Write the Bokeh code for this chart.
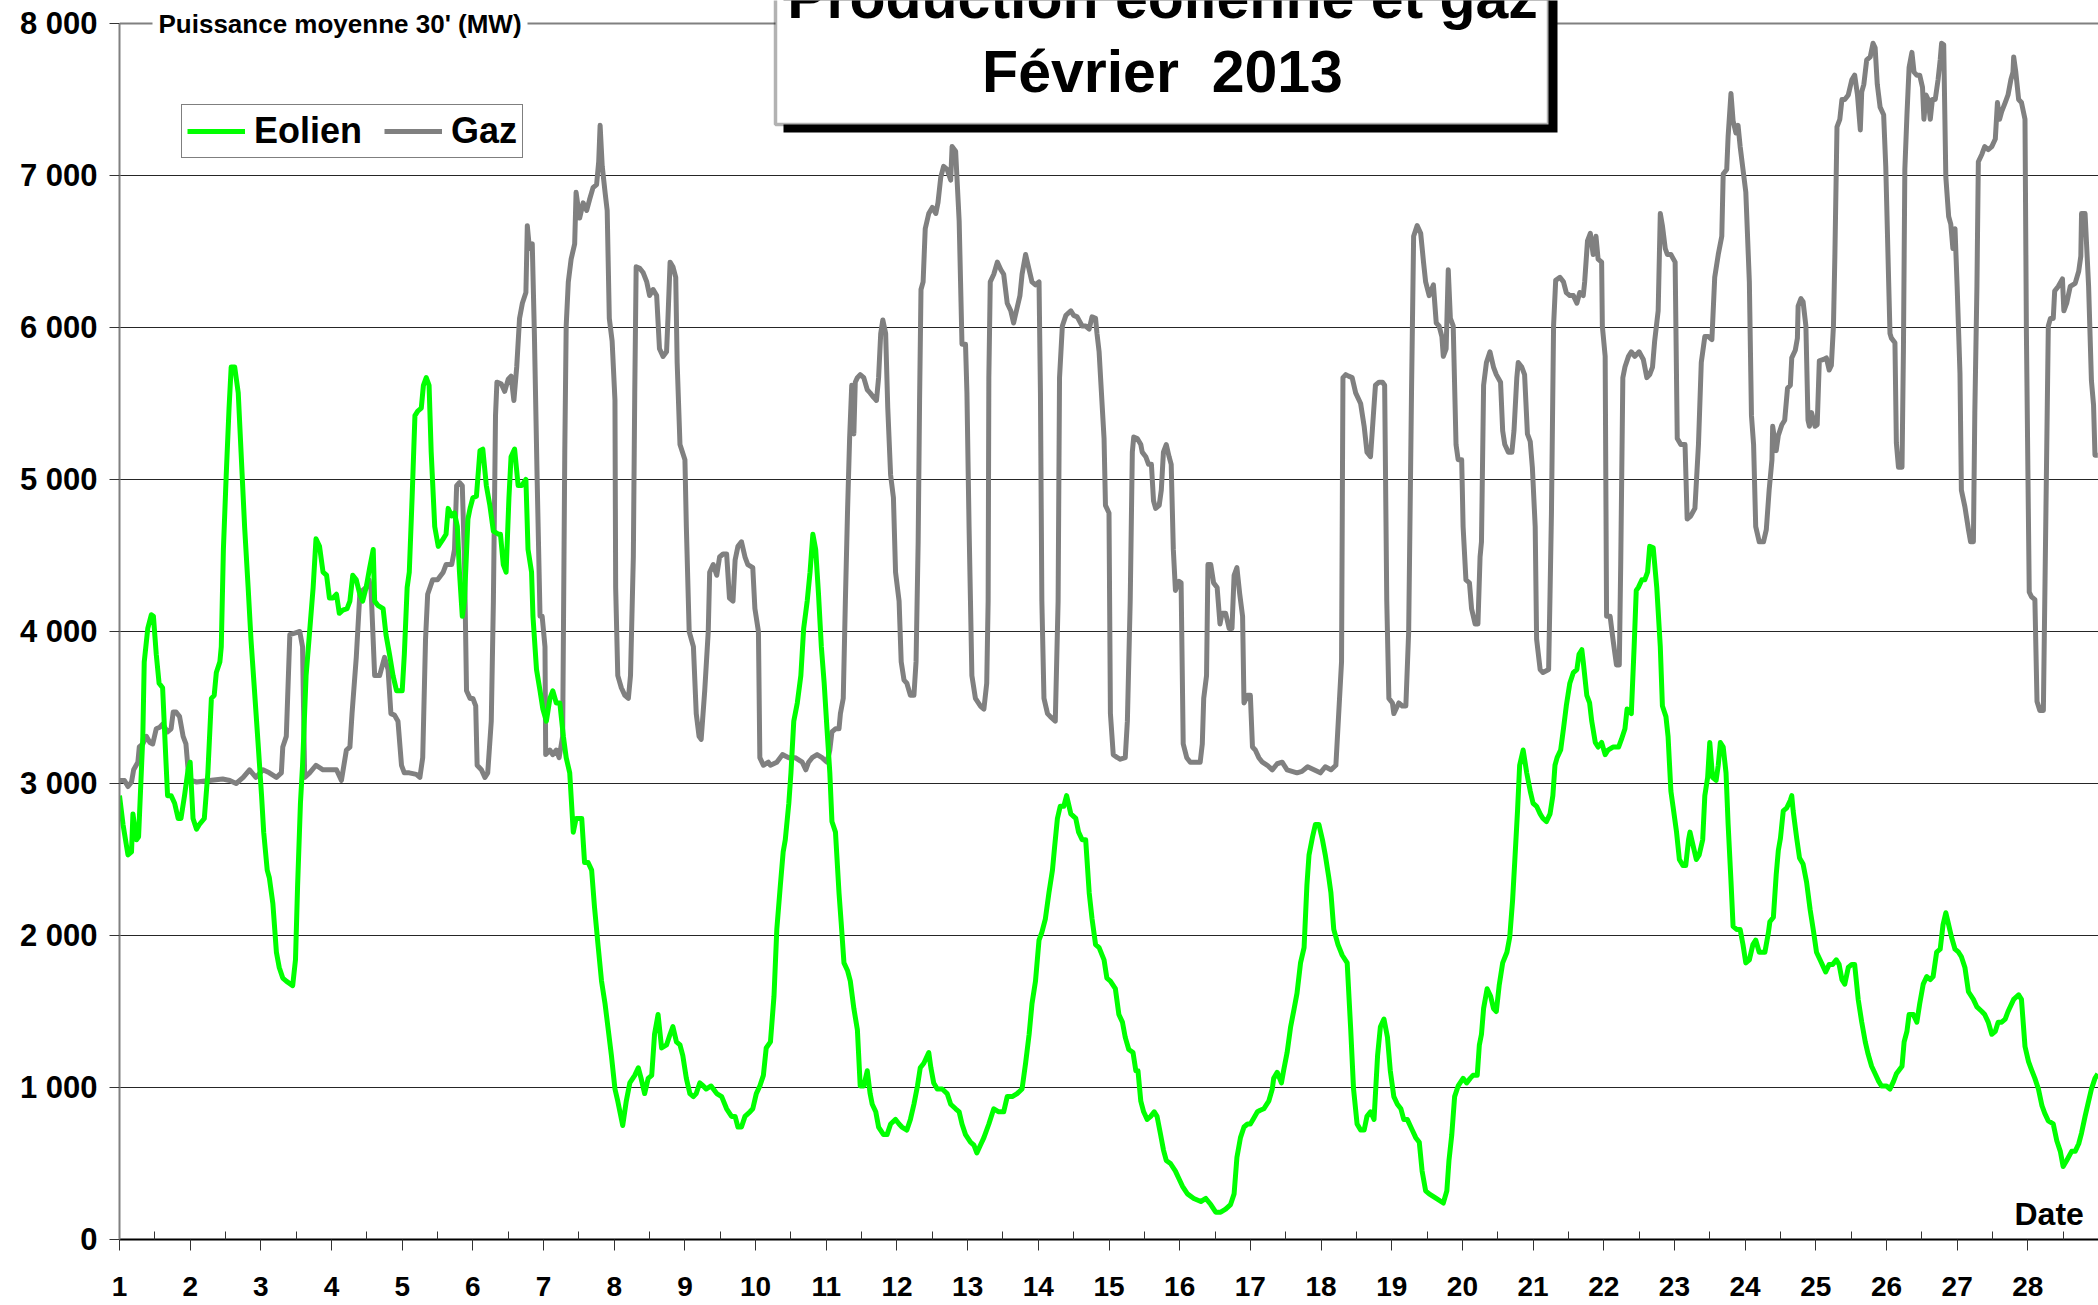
from bokeh.plotting import figure
from bokeh.models import Range1d, FixedTicker, Span, Label, BoxAnnotation, Legend, LegendItem
from bokeh.embed import file_html
from bokeh.resources import INLINE

# ---------------- data ----------------
# day of February 2013 (1.0 = 1 Feb 00:00), production in MW
eolien_day = [
    1.00, 1.05, 1.12, 1.17, 1.19, 1.24, 1.27, 1.33, 1.35, 1.40, 1.45, 1.48, 1.52, 1.56, 1.61, 1.65, 1.68, 1.73, 1.78, 1.83,
    1.87, 1.92, 1.97, 2.00, 2.04, 2.09, 2.13, 2.20, 2.25, 2.27, 2.30, 2.34, 2.37, 2.42, 2.44, 2.47, 2.51, 2.55, 2.58, 2.63,
    2.68, 2.72, 2.77, 2.82, 2.86, 2.91, 2.96, 3.01, 3.04, 3.09, 3.12, 3.17, 3.22, 3.26, 3.31, 3.36, 3.45, 3.49, 3.52, 3.56,
    3.59, 3.64, 3.69, 3.74, 3.78, 3.83, 3.88, 3.93, 3.97, 4.02, 4.07, 4.11, 4.16, 4.22, 4.26, 4.30, 4.35, 4.40, 4.44, 4.49,
    4.54, 4.59, 4.61, 4.66, 4.73, 4.77, 4.82, 4.87, 4.92, 5.00, 5.03, 5.07, 5.10, 5.14, 5.18, 5.22, 5.27, 5.30, 5.34, 5.38,
    5.41, 5.46, 5.51,
    5.58, 5.62, 5.65, 5.70, 5.74, 5.78, 5.81, 5.85, 5.88, 5.93, 5.96, 6.00, 6.05, 6.10, 6.14, 6.19, 6.24, 6.29, 6.36, 6.39,
    6.43, 6.47, 6.51, 6.54, 6.59, 6.64, 6.69, 6.75, 6.78, 6.83, 6.85, 6.90, 6.95, 6.99, 7.04, 7.09, 7.13, 7.18, 7.23, 7.28,
    7.32, 7.37, 7.42, 7.46, 7.54, 7.58, 7.63, 7.68, 7.72, 7.77, 7.82, 7.87, 7.91, 7.96, 8.01, 8.05, 8.12, 8.17, 8.22, 8.29,
    8.34, 8.38, 8.43, 8.48, 8.53, 8.57, 8.62, 8.67, 8.74, 8.79, 8.83, 8.88, 8.93, 8.97, 9.02, 9.07, 9.12, 9.16, 9.21, 9.26,
    9.30, 9.37, 9.45, 9.52, 9.59, 9.66, 9.71, 9.75, 9.80, 9.85, 9.92, 9.96, 10.01, 10.06, 10.11, 10.15,
    10.21, 10.26, 10.30, 10.35, 10.39, 10.42, 10.47, 10.50, 10.54, 10.59, 10.64, 10.68, 10.73, 10.77, 10.81, 10.85, 10.89,
    10.93, 10.97, 11.01, 11.05, 11.08, 11.13, 11.18, 11.21, 11.25, 11.30, 11.34, 11.39, 11.44, 11.48, 11.53, 11.58, 11.62,
    11.65, 11.70, 11.74, 11.81, 11.86, 11.91, 11.98, 12.03, 12.07, 12.14, 12.19, 12.24, 12.29, 12.33, 12.38, 12.45, 12.48,
    12.52, 12.57, 12.64, 12.71, 12.76, 12.83, 12.88, 12.92, 12.97, 13.04, 13.09, 13.13, 13.18, 13.23, 13.30, 13.37, 13.44,
    13.51, 13.56, 13.63, 13.70, 13.77, 13.82, 13.87, 13.91, 13.96, 14.01, 14.05, 14.10, 14.15, 14.20, 14.23, 14.27, 14.31,
    14.36, 14.40, 14.46, 14.53, 14.57, 14.62, 14.67, 14.72, 14.76, 14.81, 14.86,
    14.93, 14.97, 15.02, 15.09, 15.14, 15.19, 15.23, 15.28, 15.34, 15.38, 15.41, 15.45, 15.49, 15.54, 15.59, 15.64, 15.68,
    15.73, 15.77, 15.81, 15.87, 15.94, 15.99, 16.04, 16.11, 16.20, 16.30, 16.37, 16.44, 16.51, 16.58, 16.65, 16.72, 16.77,
    16.81, 16.86, 16.91, 16.96, 17.00, 17.05, 17.10, 17.14, 17.19, 17.26, 17.31, 17.33, 17.38, 17.44, 17.47, 17.52, 17.57,
    17.62, 17.66, 17.71, 17.76, 17.80, 17.83, 17.88, 17.92, 17.97, 18.02, 18.06, 18.11, 18.14, 18.18, 18.24, 18.30, 18.37,
    18.42, 18.46, 18.51, 18.56, 18.61, 18.65, 18.70, 18.75, 18.80, 18.84, 18.89, 18.94, 18.98, 19.03, 19.08, 19.13, 19.17,
    19.22, 19.29, 19.34, 19.39, 19.43, 19.48, 19.53,
    19.63, 19.73, 19.78, 19.81, 19.85, 19.89, 19.94, 20.01, 20.06, 20.11, 20.15, 20.21, 20.24, 20.27, 20.30, 20.35, 20.40,
    20.44, 20.48, 20.52, 20.57, 20.63, 20.67, 20.71, 20.74, 20.78, 20.81, 20.86, 20.91, 20.96, 21.00, 21.05, 21.10, 21.14,
    21.19, 21.24, 21.28, 21.31, 21.34, 21.39, 21.43, 21.47, 21.52, 21.57, 21.62, 21.65, 21.69, 21.71, 21.76, 21.80, 21.83,
    21.88, 21.92, 21.97, 22.02, 22.06, 22.13, 22.21, 22.25, 22.30, 22.33, 22.39, 22.43, 22.46, 22.49, 22.54, 22.58, 22.62,
    22.65, 22.70, 22.75, 22.80, 22.83, 22.88, 22.91, 22.95, 22.98, 23.03, 23.07, 23.12, 23.16, 23.20, 23.22, 23.27, 23.31,
    23.35, 23.40, 23.43, 23.47, 23.50, 23.54, 23.59, 23.62, 23.65, 23.69, 23.73, 23.76, 23.80, 23.83, 23.88, 23.93, 23.97,
    24.01, 24.06, 24.11, 24.15, 24.20,
    24.28, 24.33, 24.35, 24.40, 24.44, 24.47, 24.50, 24.54, 24.59, 24.64, 24.66, 24.68, 24.73, 24.77, 24.82, 24.87, 24.92,
    24.97, 25.01, 25.06, 25.11, 25.14, 25.19, 25.24, 25.29, 25.33, 25.37, 25.41, 25.46, 25.51, 25.55, 25.60, 25.65, 25.70,
    25.74, 25.79, 25.84, 25.89, 25.93, 26.00, 26.05, 26.10, 26.14, 26.22, 26.25, 26.29, 26.32, 26.38, 26.43, 26.47, 26.52,
    26.57, 26.62, 26.66, 26.71, 26.76, 26.80, 26.84, 26.88, 26.92, 26.97, 27.02, 27.06, 27.11, 27.16, 27.23, 27.28, 27.35,
    27.39, 27.44, 27.49, 27.54, 27.58, 27.63, 27.68, 27.72, 27.80, 27.87, 27.91, 27.96, 28.01, 28.05, 28.10, 28.15, 28.20,
    28.24, 28.29, 28.36, 28.41, 28.46, 28.50, 28.55, 28.62, 28.67, 28.72, 28.76, 28.81, 28.86, 28.90, 28.95, 28.99,
]
eolien_mw = [
    2920, 2730, 2530, 2550, 2800, 2630, 2650, 3310, 3800, 4020, 4110, 4100, 3850, 3660, 3630, 3220, 2920, 2920, 2870, 2770,
    2770, 2920, 3090, 3140, 2770, 2700, 2730, 2770, 3070, 3265, 3560, 3580, 3730, 3800, 3900, 4540, 5030, 5470, 5740, 5740,
    5570, 5180, 4690, 4290, 3950, 3610, 3270, 2920, 2680, 2430, 2380, 2210, 1890, 1790, 1720, 1700, 1670, 1840, 2330, 2870,
    3120, 3710, 4000, 4290, 4610, 4560, 4390, 4370, 4220, 4220, 4245, 4120, 4140, 4150, 4200, 4370, 4340, 4245, 4200, 4290,
    4420, 4540, 4200, 4170, 4150, 3980, 3850, 3710, 3610, 3610, 3850, 4290, 4390, 4880, 5420, 5450, 5470, 5620, 5670, 5620,
    5180, 4690, 4560,
    4610, 4640, 4810, 4760, 4780, 4690, 4390, 4100, 4200, 4740, 4810, 4880, 4890, 5190, 5200, 4960, 4830, 4660, 4640, 4640,
    4440, 4390, 4880, 5150, 5200, 4960, 4960, 5000, 4540, 4390, 4100, 3750, 3610, 3490, 3410, 3560, 3610, 3530, 3530, 3310,
    3170, 3070, 2680, 2770, 2770, 2480, 2480, 2430, 2190, 1940, 1700, 1550, 1400, 1210, 990, 910, 750, 910, 1030, 1080,
    1130, 1060, 960, 1060, 1080, 1350, 1480, 1260, 1280, 1350, 1400, 1300, 1280, 1210, 1060, 960, 940, 960, 1030, 1010,
    990, 1010, 960, 940, 860, 810, 810, 740, 740, 810, 840, 860, 960, 1010, 1080, 1260,
    1300, 1600, 2040, 2330, 2550, 2630, 2870, 3070, 3410, 3530, 3710, 4020, 4200, 4390, 4640, 4540, 4245,
    3900, 3660, 3360, 3070, 2750, 2680, 2280, 2090, 1820, 1770, 1700, 1520, 1380, 1010, 1010, 1110, 960,
    890, 840, 740, 690, 690, 760, 790, 760, 740, 720, 790, 890, 1010, 1130, 1160, 1230, 1130,
    1030, 990, 990, 960, 890, 860, 840, 760, 690, 640, 620, 570, 620, 670, 760, 860, 840,
    840, 940, 940, 960, 990, 1160, 1350, 1550, 1700, 1970, 2020, 2110, 2280, 2430, 2580, 2770, 2850,
    2850, 2920, 2800, 2770, 2680, 2630, 2630, 2280, 2110, 1940, 1920,
    1840, 1720, 1700, 1650, 1480, 1430, 1330, 1250, 1230, 1110, 1110, 910, 840, 790, 810, 840, 810,
    690, 590, 520, 500, 450, 400, 350, 300, 270, 250, 270, 230, 180, 180, 200, 230, 300,
    540, 670, 740, 760, 760, 800, 840, 850, 860, 910, 990, 1060, 1100, 1030, 1110, 1230, 1400,
    1520, 1620, 1820, 1920, 2330, 2530, 2650, 2730, 2730, 2630, 2530, 2380, 2280, 2040, 1940, 1870, 1820,
    1380, 990, 760, 720, 720, 810, 840, 790, 1210, 1400, 1450, 1330, 1110, 940, 890, 860, 790,
    790, 720, 670, 640, 450, 320, 300,
    270, 240, 320, 520, 690, 940, 1010, 1060, 1030, 1060, 1080, 1080, 1280, 1350, 1520, 1650, 1600,
    1520, 1500, 1670, 1820, 1890, 1990, 2230, 2480, 2820, 3120, 3220, 3070, 2950, 2870, 2850, 2800, 2770,
    2750, 2800, 2920, 3120, 3170, 3220, 3360, 3510, 3660, 3730, 3750, 3850, 3880, 3800, 3580, 3530, 3410,
    3270, 3240, 3270, 3190, 3220, 3240, 3240, 3290, 3360, 3490, 3460, 3900, 4270, 4290, 4340, 4340, 4390,
    4560, 4550, 4290, 3900, 3510, 3440, 3310, 2950, 2850, 2680, 2500, 2460, 2460, 2630, 2680, 2580, 2500,
    2530, 2630, 2920, 3040, 3270, 3040, 3020, 3120, 3270, 3240, 3070, 2730, 2360, 2060, 2040, 2040, 1940,
    1820, 1840, 1940, 1970, 1890,
    1890, 2020, 2090, 2120, 2400, 2560, 2640, 2820, 2840, 2890, 2920, 2820, 2640, 2510, 2470, 2350, 2170,
    2020, 1890, 1840, 1790, 1760, 1810, 1810, 1840, 1810, 1710, 1680, 1790, 1810, 1810, 1580, 1430, 1300,
    1220, 1140, 1090, 1040, 1010, 1010, 990, 1040, 1090, 1140, 1300, 1370, 1480, 1480, 1430, 1550, 1680,
    1730, 1710, 1730, 1890, 1910, 2070, 2150, 2070, 1990, 1910, 1890, 1860, 1790, 1630, 1580, 1530, 1500,
    1480, 1430, 1350, 1370, 1430, 1430, 1450, 1500, 1580, 1610, 1580, 1270, 1170, 1120, 1060, 990, 880,
    830, 780, 760, 650, 580, 480, 520, 580, 580, 630, 700, 810, 910, 990, 1060, 1090,
]

gaz_day = [
    1.00, 1.07, 1.12, 1.17, 1.20, 1.26, 1.28, 1.33, 1.38, 1.43, 1.47, 1.52, 1.57, 1.61, 1.68, 1.73, 1.76, 1.80, 1.85, 1.90,
    1.94, 1.98, 2.01, 2.09, 2.27, 2.46, 2.56, 2.65, 2.75, 2.84, 2.93, 3.03, 3.12, 3.22, 3.29, 3.31, 3.36, 3.41, 3.48, 3.55,
    3.59, 3.62, 3.69, 3.78, 3.88, 3.97, 4.07, 4.14, 4.21, 4.26, 4.29, 4.35, 4.40, 4.44, 4.49, 4.53, 4.56, 4.61, 4.68, 4.75,
    4.80, 4.84, 4.89, 4.94, 4.99, 5.03, 5.10, 5.20, 5.25, 5.29, 5.33, 5.36, 5.43, 5.50,
    5.58, 5.62, 5.70, 5.74, 5.77, 5.81, 5.85, 5.88, 5.91, 5.96, 6.00, 6.04, 6.06, 6.12, 6.17, 6.21, 6.26, 6.29, 6.32, 6.34,
    6.40, 6.45, 6.50, 6.54, 6.58, 6.62, 6.66, 6.70, 6.75, 6.77, 6.80, 6.84, 6.87, 6.91, 6.95, 6.98, 7.02, 7.03, 7.09, 7.13,
    7.18, 7.22, 7.27, 7.30, 7.32, 7.35, 7.39, 7.44, 7.46, 7.51, 7.56, 7.61, 7.65, 7.70, 7.75, 7.78, 7.80, 7.83, 7.87, 7.90,
    7.93, 7.97, 8.01, 8.02, 8.05, 8.10, 8.15, 8.20, 8.23, 8.27, 8.29, 8.31, 8.36, 8.41, 8.46, 8.50, 8.55, 8.60, 8.64, 8.69,
    8.74, 8.76, 8.79, 8.83, 8.87, 8.89, 8.93, 9.00, 9.02, 9.06, 9.12, 9.16, 9.20, 9.23, 9.28, 9.33, 9.35, 9.40, 9.45, 9.49,
    9.54, 9.59, 9.63, 9.68, 9.71, 9.75, 9.80, 9.85, 9.89, 9.96, 9.99, 10.04, 10.06, 10.11, 10.18,
    10.21, 10.30, 10.38, 10.47, 10.56, 10.66, 10.71, 10.75, 10.80, 10.87, 10.94, 11.01, 11.05, 11.08, 11.13, 11.18, 11.20,
    11.24, 11.27, 11.30, 11.33, 11.36, 11.39, 11.41, 11.44, 11.48, 11.53, 11.58, 11.62, 11.67, 11.71, 11.74, 11.77, 11.80,
    11.84, 11.87, 11.91, 11.95, 11.98, 12.03, 12.06, 12.10, 12.14, 12.19, 12.24, 12.27, 12.30, 12.32, 12.34, 12.37, 12.40,
    12.45, 12.50, 12.55, 12.58, 12.62, 12.66, 12.71, 12.76, 12.78, 12.83, 12.88, 12.92, 12.97, 12.99, 13.02, 13.04, 13.06,
    13.11, 13.18, 13.23, 13.27, 13.29, 13.30, 13.32, 13.37, 13.42, 13.47, 13.51, 13.56, 13.61, 13.65, 13.70, 13.74, 13.77,
    13.82, 13.87, 13.91, 13.96, 14.01, 14.03, 14.05, 14.08, 14.13, 14.17, 14.24, 14.28, 14.30, 14.34, 14.39, 14.46, 14.50,
    14.55, 14.62, 14.67, 14.72, 14.76, 14.81, 14.83, 14.86,
    14.93, 14.95, 15.00, 15.02, 15.06, 15.12, 15.16, 15.23, 15.26, 15.30, 15.33, 15.35, 15.40, 15.45, 15.47, 15.52, 15.56,
    15.60, 15.63, 15.66, 15.71, 15.74, 15.77, 15.81, 15.85, 15.88, 15.91, 15.94, 15.99, 16.02, 16.05, 16.10, 16.15, 16.22,
    16.29, 16.32, 16.34, 16.38, 16.40, 16.44, 16.48, 16.53, 16.57, 16.60, 16.65, 16.70, 16.74, 16.77, 16.81, 16.85, 16.89,
    16.91, 16.96, 17.00, 17.03, 17.07, 17.12, 17.17, 17.24, 17.31, 17.38, 17.45, 17.52, 17.59, 17.66, 17.73, 17.81, 17.90,
    17.99, 18.06, 18.14, 18.21, 18.25, 18.29, 18.31, 18.35, 18.39, 18.44, 18.49, 18.56, 18.61, 18.65, 18.70, 18.74, 18.77,
    18.82, 18.87, 18.90, 18.93, 18.96, 19.01, 19.03, 19.10, 19.15, 19.20, 19.24, 19.28, 19.31, 19.36, 19.41, 19.45, 19.48,
    19.53,
    19.59, 19.63, 19.67, 19.71, 19.73, 19.77, 19.80, 19.83, 19.87, 19.91, 19.94, 19.99, 20.01, 20.05, 20.10, 20.13, 20.18,
    20.22, 20.25, 20.27, 20.30, 20.34, 20.39, 20.44, 20.48, 20.54, 20.57, 20.60, 20.65, 20.70, 20.73, 20.77, 20.79, 20.84,
    20.88, 20.92, 20.96, 20.99, 21.03, 21.05, 21.10, 21.14, 21.22, 21.24, 21.26, 21.29, 21.32, 21.38, 21.43, 21.47, 21.52,
    21.57, 21.62, 21.66, 21.71, 21.73, 21.77, 21.81, 21.85, 21.89, 21.92, 21.97, 21.98, 22.02, 22.04, 22.09, 22.13, 22.18,
    22.22, 22.24, 22.27, 22.30, 22.35, 22.39, 22.44, 22.50, 22.56, 22.61, 22.65, 22.69, 22.72, 22.77, 22.80, 22.83, 22.87,
    22.90, 22.95, 23.01, 23.04, 23.09, 23.15, 23.18, 23.23, 23.29, 23.34, 23.38, 23.43, 23.48, 23.53, 23.57, 23.62, 23.67,
    23.69, 23.74, 23.76, 23.80, 23.83, 23.87, 23.90, 23.93, 23.97, 24.01, 24.06, 24.09, 24.12, 24.15, 24.20,
    24.26, 24.30, 24.34, 24.38, 24.39, 24.44, 24.47, 24.52, 24.56, 24.60, 24.64, 24.66, 24.71, 24.74, 24.75, 24.79, 24.82,
    24.86, 24.89, 24.91, 24.94, 24.99, 25.02, 25.05, 25.11, 25.15, 25.19, 25.22, 25.25, 25.27, 25.30, 25.34, 25.37, 25.41,
    25.46, 25.51, 25.55, 25.59, 25.63, 25.65, 25.68, 25.72, 25.77, 25.81, 25.84, 25.87, 25.91, 25.96, 25.99, 26.03, 26.05,
    26.07, 26.12, 26.14, 26.17, 26.22, 26.24, 26.26, 26.29, 26.32, 26.36, 26.39, 26.43, 26.47, 26.51, 26.53, 26.56, 26.59,
    26.62, 26.65, 26.69, 26.73, 26.76, 26.78, 26.81, 26.84, 26.88, 26.91, 26.94, 26.97, 27.00, 27.04, 27.06, 27.11, 27.16,
    27.19, 27.23, 27.25, 27.28, 27.30, 27.35, 27.39, 27.44, 27.49, 27.54, 27.57, 27.60, 27.63, 27.68, 27.72, 27.76, 27.79,
    27.80, 27.83, 27.87, 27.91, 27.96, 27.98, 28.02, 28.05, 28.10, 28.13, 28.17, 28.22, 28.26, 28.29, 28.32, 28.36, 28.38,
    28.43, 28.49, 28.51, 28.55, 28.60, 28.67, 28.72, 28.75, 28.76, 28.81, 28.86, 28.90, 28.93, 28.95, 28.99,
]
gaz_mw = [
    3020, 3020, 2980, 3010, 3090, 3140, 3240, 3260, 3310, 3270, 3260, 3360, 3370, 3390, 3340, 3360, 3470, 3470, 3440, 3310,
    3260, 3040, 3020, 3010, 3020, 3030, 3020, 3000, 3040, 3090, 3040, 3090, 3070, 3040, 3070, 3240, 3310, 3980, 3990, 4000,
    3900, 3040, 3070, 3120, 3090, 3090, 3090, 3020, 3220, 3240, 3460, 3830, 4245, 4270, 4290, 4340, 4270, 3710, 3710, 3830,
    3750, 3460, 3450, 3410, 3120, 3070, 3070, 3060, 3040, 3170, 3950, 4245, 4340, 4340,
    4390, 4440, 4440, 4540, 4960, 4980, 4960, 4490, 3610, 3560, 3560, 3510, 3120, 3090, 3040, 3070, 3410, 4200, 5420, 5640,
    5630, 5580, 5660, 5680, 5520, 5740, 6060, 6160, 6230, 6670, 6520, 6550, 5960, 4980, 4100, 4100, 3900, 3190, 3220, 3190,
    3220, 3170, 3310, 5180, 6010, 6300, 6450, 6550, 6890, 6720, 6820, 6770, 6840, 6920, 6940, 7090, 7330, 7060, 6890, 6770,
    6060, 5910, 5520, 4290, 3710, 3630, 3580, 3560, 3710, 4490, 5570, 6400, 6390, 6360, 6300, 6210, 6250, 6210, 5860, 5810,
    5840, 6060, 6430, 6400, 6330, 5770, 5230, 5130, 4690, 4000, 3900, 3460, 3310, 3290, 3610, 4000, 4390, 4440, 4370, 4490,
    4510, 4510, 4220, 4200, 4470, 4560, 4590, 4490, 4440, 4420, 4150, 4000, 3170, 3120, 3140,
    3120, 3140, 3190, 3170, 3170, 3140, 3090, 3140, 3170, 3190, 3170, 3140, 3220, 3340, 3360, 3360, 3460,
    3560, 4200, 4780, 5270, 5620, 5300, 5640, 5670, 5690, 5670, 5590, 5570, 5540, 5520, 5670, 5960, 6050,
    5960, 5470, 5030, 4880, 4390, 4200, 3800, 3680, 3660, 3580, 3580, 3800, 4590, 5520, 6250, 6300, 6650,
    6750, 6790, 6750, 6820, 6990, 7060, 7040, 6970, 7190, 7160, 6700, 5890, 5890, 5570, 4690, 4200, 3710,
    3560, 3510, 3490, 3660, 4200, 5670, 6300, 6350, 6430, 6380, 6350, 6160, 6110, 6030, 6130, 6210, 6350,
    6480, 6380, 6300, 6280, 6300, 5570, 4200, 3560, 3460, 3440, 3410, 4200, 5670, 6010, 6080, 6110, 6080,
    6070, 6010, 6010, 5990, 6070, 6060, 5960, 5840,
    5270, 4830, 4780, 3460, 3190, 3170, 3160, 3170, 3410, 4200, 5180, 5280, 5270, 5230, 5180, 5150, 5100,
    5100, 4860, 4810, 4830, 4930, 5180, 5230, 5150, 5100, 4540, 4270, 4330, 4320, 3260, 3170, 3140, 3140,
    3140, 3260, 3560, 3710, 4440, 4440, 4320, 4290, 4050, 4120, 4120, 4020, 4020, 4370, 4420, 4245, 4100,
    3530, 3580, 3580, 3240, 3220, 3170, 3140, 3120, 3090, 3130, 3140, 3090, 3080, 3070, 3080, 3110, 3090,
    3070, 3110, 3090, 3120, 3460, 3800, 5670, 5690, 5680, 5670, 5570, 5500, 5350, 5180, 5150, 5420, 5620,
    5640, 5640, 5620, 4200, 3560, 3530, 3460, 3530, 3510, 3510, 4000, 5570, 6600, 6670, 6620, 6430, 6300,
    6210,
    6280, 6030, 6010, 5940, 5810, 5860, 6380, 6060, 6010, 5230, 5130, 5130, 4690, 4340, 4320, 4150, 4050,
    4050, 4490, 4590, 5620, 5770, 5840, 5740, 5690, 5640, 5320, 5230, 5180, 5180, 5320, 5670, 5770, 5740,
    5690, 5300, 5250, 5080, 4690, 3950, 3750, 3730, 3750, 4245, 4780, 6010, 6310, 6330, 6300, 6230, 6210,
    6210, 6160, 6230, 6210, 6300, 6570, 6620, 6480, 6600, 6450, 6430, 6010, 5810, 4100, 4100, 3950, 3780,
    3780, 4440, 5670, 5740, 5810, 5840, 5810, 5840, 5790, 5670, 5690, 5740, 5910, 6110, 6750, 6670, 6520,
    6480, 6480, 6430, 5270, 5230, 5230, 4740, 4760, 4810, 5230, 5770, 5940, 5940, 5920, 6330, 6480, 6600,
    7010, 7040, 7260, 7540, 7360, 7280, 7330, 7190, 7040, 6890, 6300, 5420, 5230, 4690, 4590,
    4590, 4670, 4930, 5130, 5350, 5190, 5290, 5360, 5390, 5600, 5620, 5800, 5850, 5930, 6140, 6190, 6170,
    6010, 5390, 5350, 5440, 5350, 5360, 5780, 5790, 5800, 5720, 5750, 6010, 6470, 7320, 7370, 7500, 7500,
    7530, 7630, 7660, 7530, 7300, 7550, 7600, 7760, 7780, 7870, 7840, 7600, 7450, 7400, 7060, 6320, 5960,
    5930, 5900, 5240, 5080, 5080, 5850, 7040, 7400, 7710, 7810, 7680, 7660, 7660, 7580, 7370, 7530, 7500,
    7370, 7500, 7500, 7630, 7760, 7870, 7860, 6990, 6730, 6680, 6520, 6650, 6270, 5700, 4930, 4820, 4670,
    4590, 4590, 5440, 6270, 7090, 7140, 7190, 7170, 7190, 7240, 7480, 7370, 7420, 7480, 7530, 7630, 7680,
    7780, 7680, 7500, 7480, 7370, 5960, 4260, 4230, 4210, 3540, 3480, 3480, 4930, 6010, 6060, 6060, 6240,
    6270, 6320, 6110, 6160, 6270, 6290, 6370, 6470, 6750, 6750, 6270, 5650, 5490, 5160, 5160,
]

day_ticks = list(range(1, 29))
day_labels = [str(d) for d in day_ticks]
half_day_ticks = [d + 0.5 for d in day_ticks]
mw_ticks = [0, 1000, 2000, 3000, 4000, 5000, 6000, 7000, 8000]
mw_labels = ["0", "1 000", "2 000", "3 000", "4 000", "5 000", "6 000", "7 000", "8 000"]
series_names = ["Eolien", "Gaz"]
title_lines = ["Production éolienne et gaz", "Février\u00a0\u00a02013"]
y_title = "Puissance moyenne 30' (MW)"
x_title = "Date"

# ---------------- layout ----------------
FONT = "Liberation Sans"
W, H = 2098, 1305
LEFT, BOTTOM = 119, 66
FRAME_W = W - LEFT
FRAME_H = H - BOTTOM
X0, X1 = 1, 29
Y_TOP = 8000 * FRAME_H / 1216.0   # 8000 MW sits 23 px below the top


def dx(px):
    return X0 + (px - LEFT) * (X1 - X0) / FRAME_W


def dy(py):
    return (FRAME_H - py) * Y_TOP / FRAME_H


p = figure(width=W, height=H, x_range=Range1d(X0, X1), y_range=Range1d(0, Y_TOP),
           output_backend="svg", toolbar_location=None,
           min_border_left=LEFT, min_border_right=0, min_border_top=0, min_border_bottom=BOTTOM,
           outline_line_color=None, background_fill_color="white", border_fill_color="white")

# x axis
xa = p.xaxis[0]
xa.ticker = FixedTicker(ticks=day_ticks, minor_ticks=half_day_ticks)
xa.major_label_overrides = {d: lab for d, lab in zip(day_ticks, day_labels)}
xa.axis_line_color = "black"
xa.axis_line_width = 2
xa.major_tick_out = 11
xa.major_tick_in = 0
xa.minor_tick_in = 8
xa.minor_tick_out = 0
xa.major_tick_line_color = "#333333"
xa.minor_tick_line_color = "#333333"
xa.major_label_text_font = FONT
xa.major_label_text_font_style = "bold"
xa.major_label_text_font_size = "28px"
xa.major_label_text_color = "black"
xa.major_label_standoff = 26

# y axis
ya = p.yaxis[0]
ya.ticker = FixedTicker(ticks=mw_ticks)
ya.major_label_overrides = {t: lab for t, lab in zip(mw_ticks, mw_labels)}
ya.bounds = (0, 8000)
ya.axis_line_color = "#808080"
ya.axis_line_width = 2
ya.major_tick_out = 10
ya.major_tick_in = 0
ya.minor_tick_out = 0
ya.minor_tick_in = 0
ya.major_tick_line_color = "#333333"
ya.major_label_text_font = FONT
ya.major_label_text_font_style = "bold"
ya.major_label_text_font_size = "31px"
ya.major_label_text_color = "black"
ya.major_label_standoff = 12

p.xgrid.visible = False
p.ygrid.ticker = FixedTicker(ticks=mw_ticks[1:-1])
p.ygrid.grid_line_color = "#262626"
p.ygrid.grid_line_width = 1

# top border line at 8000
p.add_layout(Span(location=8000, dimension="width", line_color="#808080", line_width=2))

# series
g = p.line(gaz_day, gaz_mw, line_color="#808080", line_width=5, line_join="round")
e = p.line(eolien_day, eolien_mw, line_color="#00FF00", line_width=5, line_join="round")

# y title (white background cuts the top line)
p.add_layout(BoxAnnotation(left=dx(152), right=dx(527), bottom=dy(36), top=dy(10),
                           fill_color="white", fill_alpha=1, line_color=None))
p.add_layout(Label(x=dx(158), y=8000, text=y_title, text_baseline="middle", text_align="left",
                   text_font=FONT, text_font_style="bold", text_font_size="26px", text_color="black"))

# title box with shadow
p.add_layout(BoxAnnotation(left=dx(783), right=dx(1557), bottom=dy(132), top=Y_TOP + 200,
                           fill_color="black", fill_alpha=1, line_color=None))
p.add_layout(BoxAnnotation(left=dx(775), right=dx(1548), bottom=dy(124), top=Y_TOP + 200,
                           fill_color="white", fill_alpha=1, line_color="black", line_width=3.5))
p.add_layout(Label(x=dx(1162), y=dy(-3), text=title_lines[0], text_align="center",
                   text_baseline="middle", text_font=FONT, text_font_style="bold",
                   text_font_size="59px", text_color="black"))
p.add_layout(Label(x=dx(1162), y=dy(71), text=title_lines[1], text_align="center",
                   text_baseline="middle", text_font=FONT, text_font_style="bold",
                   text_font_size="59px", text_color="black"))

# x title
p.add_layout(Label(x=dx(2014), y=dy(1213), text=x_title, text_align="left",
                   text_baseline="middle", text_font=FONT, text_font_style="bold",
                   text_font_size="32px", text_color="black"))

# legend
legend = Legend(items=[LegendItem(label=series_names[0], renderers=[e]),
                       LegendItem(label=series_names[1], renderers=[g])],
                orientation="horizontal", location=(62, FRAME_H - 158),
                label_text_font=FONT, label_text_font_style="bold", label_text_font_size="36px",
                label_text_color="black", border_line_color="black", border_line_width=1.5,
                background_fill_color="white", background_fill_alpha=1,
                padding=5, spacing=22, label_standoff=9, glyph_width=58, glyph_height=30, margin=0)
p.add_layout(legend)

open("out.html", "w").write(file_html(p, INLINE))
